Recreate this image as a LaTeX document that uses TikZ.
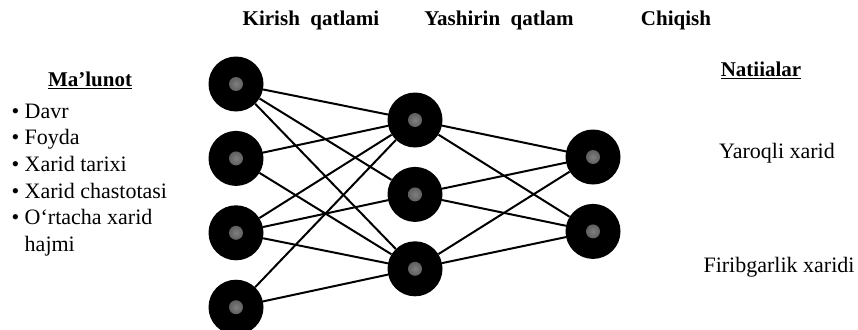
\documentclass[tikz,border=0pt]{standalone}
\usepackage{fontspec}
\setmainfont{Liberation Serif}
\usetikzlibrary{positioning}

\begin{document}
\begin{tikzpicture}[
    x=1pt, y=-1pt,
    node distance=19pt and 1.0cm,
    neuron/.style={circle, fill=black, minimum size=55pt, inner sep=0pt,
        path picture={\shade[inner color=black!50, outer color=black] (path picture bounding box.center) circle (7pt);}},
    link/.style={line width=2pt},
    heading/.style={font=\fontsize{21}{25}\selectfont\bfseries},
    txt/.style={font=\fontsize{22}{26.7}\selectfont, align=left},
]
\useasboundingbox (0,0) rectangle (858,329);

% Layer titles
\node[heading] (tin) at (311,20) {Kirish\hspace{0.5em}qatlami};
\node[heading] (thid) at (499,20) {Yashirin\hspace{0.5em}qatlam};
\node[heading] (tout) at (676,20) {Chiqish};

% Input data
\node[heading] (data) at (90,80) {\underline{Ma’lunot}};
\node[txt, anchor=west] (list) at (8,180) {\textbullet\ Davr\\ \textbullet\ Foyda\\ \textbullet\ Xarid tarixi\\ \textbullet\ Xarid chastotasi\\ \textbullet\ O‘rtacha xarid\\ \phantom{\textbullet\ }hajmi};

% Input layer
\node[neuron] (in1) at (236,84) {};
\node[neuron, below=of in1] (in2) {};
\node[neuron, below=of in2] (in3) {};
\node[neuron, below=of in3] (in4) {};

% Hidden layer
\node[neuron] (h1) at (415,120) {};
\node[neuron, below=of h1] (h2) {};
\node[neuron, below=of h2] (h3) {};

% Output layer
\node[neuron] (o1) at (593,157) {};
\node[neuron, below=of o1] (o2) {};

% Results
\node[heading] (res) at (761,70) {\underline{Natiialar}};
\node[txt] (valid) at (777,153) {Yaroqli xarid};
\node[txt] (fraud) at (779,267) {Firibgarlik xaridi};

% Input -> hidden
\draw[link] (in1) -- (h1) (in1) -- (h2) (in1) -- (h3);
\draw[link] (in2) -- (h1) (in2) -- (h3);
\draw[link] (in3) -- (h1) (in3) -- (h2) (in3) -- (h3);
\draw[link] (in4) -- (h1) (in4) -- (h3);

% Hidden -> output
\draw[link] (h1) -- (o1) (h1) -- (o2);
\draw[link] (h2) -- (o1) (h2) -- (o2);
\draw[link] (h3) -- (o1) (h3) -- (o2);

\end{tikzpicture}
\end{document}
